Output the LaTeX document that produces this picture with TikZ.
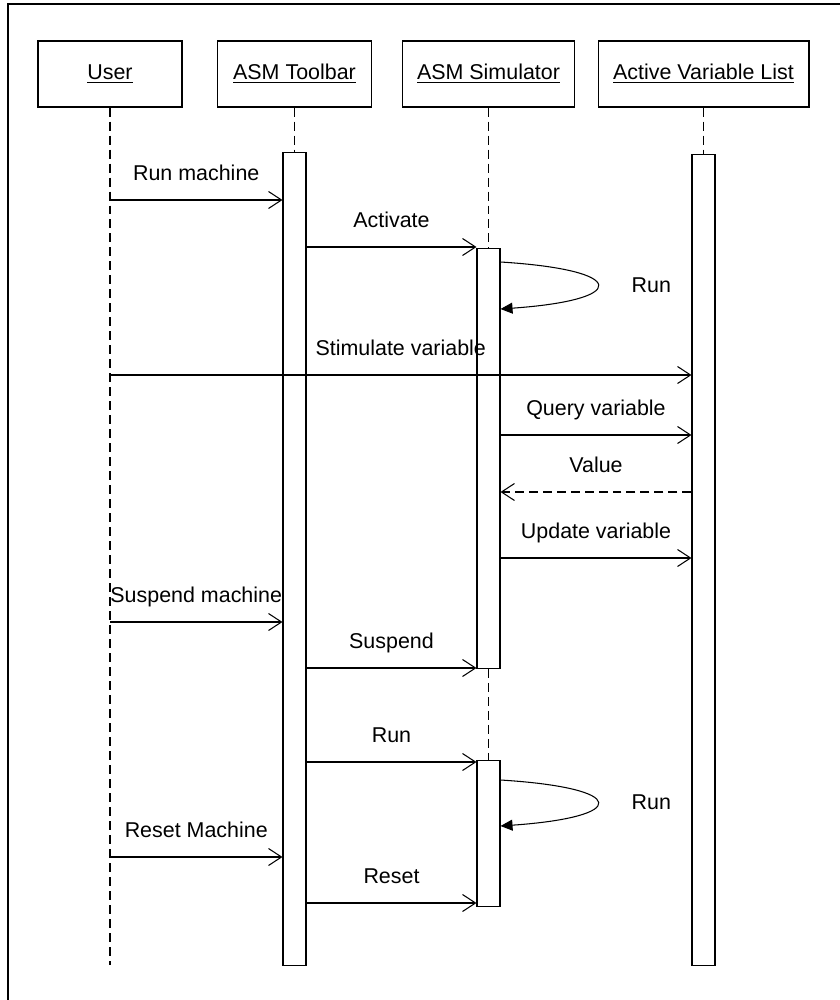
\documentclass[tikz,border=0pt]{standalone}
\usepackage{fontspec}
\setmainfont{Liberation Sans}
\usetikzlibrary{arrows.meta}

\begin{document}
\begin{tikzpicture}[
  x=0.02cm,y=-0.02cm,
  font=\fontsize{12.2}{14}\selectfont,
  line width=0.6pt,
  head/.style={draw,minimum height=1.32cm,inner sep=2pt},
  bar/.style={draw,minimum width=0.46cm,anchor=north,inner sep=0pt},
  life/.style={dash pattern=on 0.18cm off 0.1cm},
  msg/.style={-{Straight Barb[length=0.26cm,width=0.34cm]}},
  reply/.style={msg,dash pattern=on 0.18cm off 0.1cm},
  selfmsg/.style={-{Triangle[length=0.24cm,width=0.22cm]}},
  lbl/.style={above,inner sep=0.1cm,text depth=0.28cm}
]
  \useasboundingbox (0,0) rectangle (839,1000);
  \draw[line width=1pt] (8,4) rectangle (850,1010);

  % heads
  \node[head,minimum width=2.88cm] (user) at (110,74) {\underline{User}};
  \node[head,minimum width=3.08cm] (toolbar) at (294.5,74) {\underline{ASM Toolbar}};
  \node[head,minimum width=3.44cm] (simulator) at (488.5,74) {\underline{ASM Simulator}};
  \node[head,minimum width=4.22cm] (avl) at (703.5,74) {\underline{Active Variable List}};

  % activation bars
  \node[bar,minimum height=16.26cm] (tbbar) at (294.5,152) {};
  \node[bar,minimum height=8.4cm] (simbarA) at (488.5,248) {};
  \node[bar,minimum height=2.92cm] (simbarB) at (488.5,760) {};
  \node[bar,minimum height=16.22cm] (avlbar) at (703.5,154) {};

  % lifelines
  \coordinate (userend) at (110,965);
  \draw[life] (user) -- (userend);
  \draw[life] (toolbar) -- (tbbar);
  \draw[life] (simulator) -- (simbarA);
  \draw[life] (simbarA) -- (simbarB);
  \draw[life] (avl) -- (avlbar);

  % message levels
  \coordinate (m1) at (0,200);
  \coordinate (m2) at (0,247);
  \coordinate (l1) at (0,262);
  \coordinate (l2) at (0,309);
  \coordinate (m3) at (0,375);
  \coordinate (m4) at (0,435);
  \coordinate (m5) at (0,492);
  \coordinate (m6) at (0,558);
  \coordinate (m7) at (0,622);
  \coordinate (m8) at (0,668);
  \coordinate (m9) at (0,762);
  \coordinate (l3) at (0,780);
  \coordinate (l4) at (0,826);
  \coordinate (m10) at (0,857);
  \coordinate (m11) at (0,903);

  % messages
  \draw[msg] (user |- m1) -- node[lbl]{Run machine} (tbbar.west |- m1);
  \draw[msg] (tbbar.east |- m2) -- node[lbl]{Activate} (simbarA.west |- m2);
  \draw[selfmsg] (simbarA.east |- l1) .. controls +(129,8) and +(129,-9) .. node[right=0.56cm]{Run} (simbarA.east |- l2);
  \draw[msg] (user |- m3) -- node[lbl]{Stimulate variable} (avlbar.west |- m3);
  \draw[msg] (simbarA.east |- m4) -- node[lbl]{Query variable} (avlbar.west |- m4);
  \draw[reply] (avlbar.west |- m5) -- node[lbl]{Value} (simbarA.east |- m5);
  \draw[msg] (simbarA.east |- m6) -- node[lbl]{Update variable} (avlbar.west |- m6);
  \draw[msg] (user |- m7) -- node[lbl]{Suspend machine} (tbbar.west |- m7);
  \draw[msg] (tbbar.east |- m8) -- node[lbl]{Suspend} (simbarA.west |- m8);
  \draw[msg] (tbbar.east |- m9) -- node[lbl]{Run} (simbarB.west |- m9);
  \draw[selfmsg] (simbarB.east |- l3) .. controls +(129,8) and +(129,-9) .. node[right=0.56cm]{Run} (simbarB.east |- l4);
  \draw[msg] (user |- m10) -- node[lbl]{Reset Machine} (tbbar.west |- m10);
  \draw[msg] (tbbar.east |- m11) -- node[lbl]{Reset} (simbarB.west |- m11);
\end{tikzpicture}
\end{document}
